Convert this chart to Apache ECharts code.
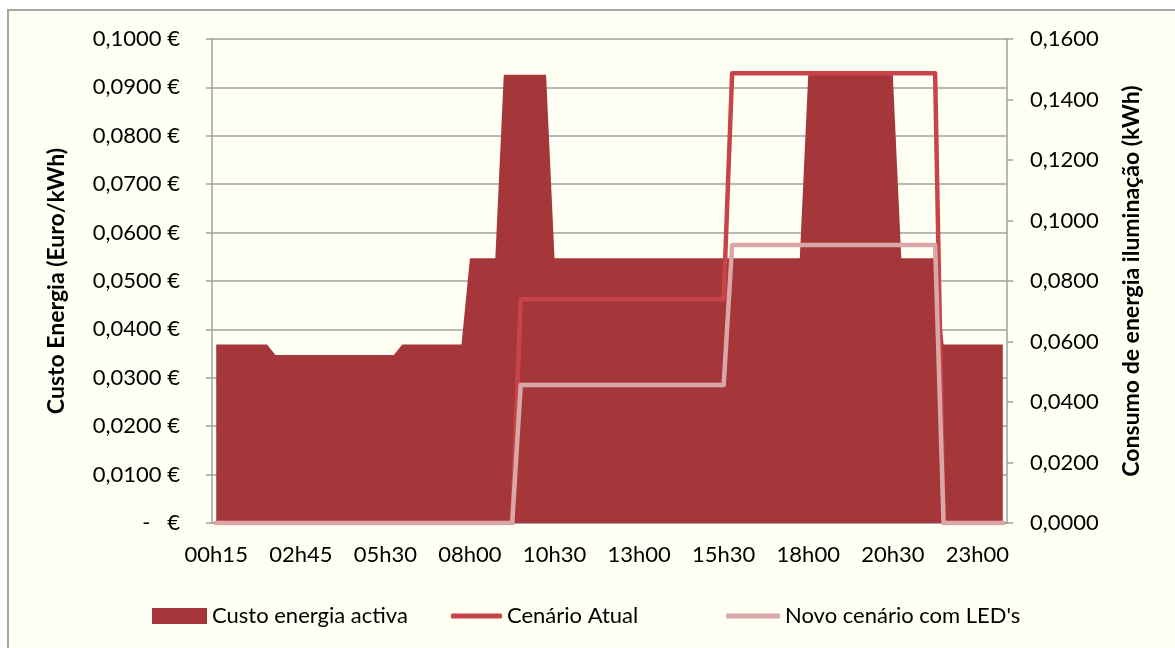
<!DOCTYPE html>
<html>
<head>
<meta charset="utf-8">
<script src="https://cdn.jsdelivr.net/npm/echarts@6/dist/echarts.min.js"></script>
<style>
  html, body { margin: 0; padding: 0; background: #ffffff; }
  #frame { position: absolute; left: 7px; top: 9px; width: 1175px; height: 648px;
           background: #fffff3; border-left: 2px solid #a6a6a6; border-top: 2px solid #a6a6a6; }
  #chart { position: absolute; left: 0; top: 0; width: 1175px; height: 648px; }
</style>
</head>
<body>
<div id="frame"></div>
<div id="chart"></div>
<script>
// horas (um intervalo de 15 min em falta entre 02h45 e 05h30, como no original)
const horas = [
  '00h15','00h30','00h45','01h00','01h15','01h30','01h45','02h00','02h15','02h30',
  '02h45','03h15','03h30','03h45','04h00','04h15','04h30','04h45','05h00','05h15',
  '05h30','05h45','06h00','06h15','06h30','06h45','07h00','07h15','07h30','07h45',
  '08h00','08h15','08h30','08h45','09h00','09h15','09h30','09h45','10h00','10h15',
  '10h30','10h45','11h00','11h15','11h30','11h45','12h00','12h15','12h30','12h45',
  '13h00','13h15','13h30','13h45','14h00','14h15','14h30','14h45','15h00','15h15',
  '15h30','15h45','16h00','16h15','16h30','16h45','17h00','17h15','17h30','17h45',
  '18h00','18h15','18h30','18h45','19h00','19h15','19h30','19h45','20h00','20h15',
  '20h30','20h45','21h00','21h15','21h30','21h45','22h00','22h15','22h30','22h45',
  '23h00','23h15','23h30','23h45'
]

// Custo energia activa (Euro/kWh)
const custoEnergia = [
  0.0369,0.0369,0.0369,0.0369,0.0369,0.0369,0.0369,0.0347,0.0347,0.0347,
  0.0347,0.0347,0.0347,0.0347,0.0347,0.0347,0.0347,0.0347,0.0347,0.0347,
  0.0347,0.0347,0.0369,0.0369,0.0369,0.0369,0.0369,0.0369,0.0369,0.0369,
  0.0547,0.0547,0.0547,0.0547,0.0926,0.0926,0.0926,0.0926,0.0926,0.0926,
  0.0547,0.0547,0.0547,0.0547,0.0547,0.0547,0.0547,0.0547,0.0547,0.0547,
  0.0547,0.0547,0.0547,0.0547,0.0547,0.0547,0.0547,0.0547,0.0547,0.0547,
  0.0547,0.0547,0.0547,0.0547,0.0547,0.0547,0.0547,0.0547,0.0547,0.0547,
  0.0926,0.0926,0.0926,0.0926,0.0926,0.0926,0.0926,0.0926,0.0926,0.0926,
  0.0926,0.0547,0.0547,0.0547,0.0547,0.0547,0.0369,0.0369,0.0369,0.0369,
  0.0369,0.0369,0.0369,0.0369
]

// Cenário Atual (kWh)
const cenarioAtual = [
  0,0,0,0,0,0,0,0,0,0,
  0,0,0,0,0,0,0,0,0,0,
  0,0,0,0,0,0,0,0,0,0,
  0,0,0,0,0,0,0.0740,0.0740,0.0740,0.0740,
  0.0740,0.0740,0.0740,0.0740,0.0740,0.0740,0.0740,0.0740,0.0740,0.0740,
  0.0740,0.0740,0.0740,0.0740,0.0740,0.0740,0.0740,0.0740,0.0740,0.0740,
  0.0740,0.1487,0.1487,0.1487,0.1487,0.1487,0.1487,0.1487,0.1487,0.1487,
  0.1487,0.1487,0.1487,0.1487,0.1487,0.1487,0.1487,0.1487,0.1487,0.1487,
  0.1487,0.1487,0.1487,0.1487,0.1487,0.1487,0,0,0,0,
  0,0,0,0
]

// Novo cenário com LED's (kWh)
const cenarioLed = [
  0,0,0,0,0,0,0,0,0,0,
  0,0,0,0,0,0,0,0,0,0,
  0,0,0,0,0,0,0,0,0,0,
  0,0,0,0,0,0,0.0456,0.0456,0.0456,0.0456,
  0.0456,0.0456,0.0456,0.0456,0.0456,0.0456,0.0456,0.0456,0.0456,0.0456,
  0.0456,0.0456,0.0456,0.0456,0.0456,0.0456,0.0456,0.0456,0.0456,0.0456,
  0.0456,0.0919,0.0919,0.0919,0.0919,0.0919,0.0919,0.0919,0.0919,0.0919,
  0.0919,0.0919,0.0919,0.0919,0.0919,0.0919,0.0919,0.0919,0.0919,0.0919,
  0.0919,0.0919,0.0919,0.0919,0.0919,0.0919,0,0,0,0,
  0,0,0,0
]

const fonte = 'Lato'
const cinza = '#a0a0a0'
const txt = { fontFamily: fonte, fontSize: 22, color: '#000' }

const chart = echarts.init(document.getElementById('chart'))
const option = {
  animation: false,
  textStyle: { fontFamily: fonte },
  grid: { left: 212, right: 168, top: 39, bottom: 125 },
  legend: [
    { left: 147, top: 600, itemWidth: 55, itemHeight: 16, textStyle: txt,
      data: [{ name: 'Custo energia activa', icon: 'rect' }] },
    { left: 446, top: 600, itemWidth: 51, itemHeight: 5, textStyle: txt,
      data: [{ name: 'Cenário Atual', icon: 'roundRect' }] },
    { left: 721, top: 600, itemWidth: 54, itemHeight: 5, textStyle: txt,
      data: [{ name: "Novo cenário com LED's", icon: 'roundRect' }] },
  ],
  xAxis: {
    type: 'category',
    data: horas,
    boundaryGap: true,
    axisLine: { lineStyle: { color: cinza, width: 1.5 } },
    axisTick: { interval: 0, length: 5, lineStyle: { color: cinza, width: 1.5 } },
    axisLabel: { ...txt, interval: 9, margin: 21 },
  },
  yAxis: [
    {
      type: 'value', min: 0, max: 0.1, interval: 0.01,
      name: 'Custo Energia (Euro/kWh)', nameLocation: 'middle', nameGap: 144,
      nameTextStyle: { ...txt, fontSize: 23, fontWeight: 'bold' },
      axisLine: { show: true, lineStyle: { color: cinza, width: 1.5 } },
      axisTick: { show: true, length: 6, lineStyle: { color: cinza, width: 1.5 } },
      splitLine: { lineStyle: { color: cinza, width: 1.5 } },
      axisLabel: {
        ...txt, margin: 32,
        formatter: (v) => (v === 0 ? '-   €' : v.toFixed(4).replace('.', ',') + ' €'),
      },
    },
    {
      type: 'value', min: 0, max: 0.16, interval: 0.02, position: 'right',
      name: 'Consumo de energia iluminação (kWh)', nameLocation: 'middle', nameGap: 113,
      nameTextStyle: { ...txt, fontSize: 23, fontWeight: 'bold' },
      axisLine: { show: true, lineStyle: { color: cinza, width: 1.5 } },
      axisTick: { show: true, length: 6, lineStyle: { color: cinza, width: 1.5 } },
      splitLine: { show: false },
      axisLabel: { ...txt, margin: 23, formatter: (v) => v.toFixed(4).replace('.', ',') },
    },
  ],
  series: [
    {
      name: 'Custo energia activa', type: 'line', yAxisIndex: 0,
      data: custoEnergia, symbol: 'none',
      lineStyle: { width: 0 }, itemStyle: { color: '#a5373a' },
      areaStyle: { color: '#a5373a', opacity: 1 },
    },
    {
      name: 'Cenário Atual', type: 'line', yAxisIndex: 1,
      data: cenarioAtual, symbol: 'none',
      itemStyle: { color: '#c8444a' },
      lineStyle: { color: '#c8444a', width: 4.5, cap: 'round', join: 'round' },
    },
    {
      name: "Novo cenário com LED's", type: 'line', yAxisIndex: 1,
      data: cenarioLed, symbol: 'none',
      itemStyle: { color: '#d9a7a8' },
      lineStyle: { color: '#d9a7a8', width: 4.5, cap: 'round', join: 'round' },
    },
  ],
}
chart.setOption(option)
</script>
</body>
</html>
